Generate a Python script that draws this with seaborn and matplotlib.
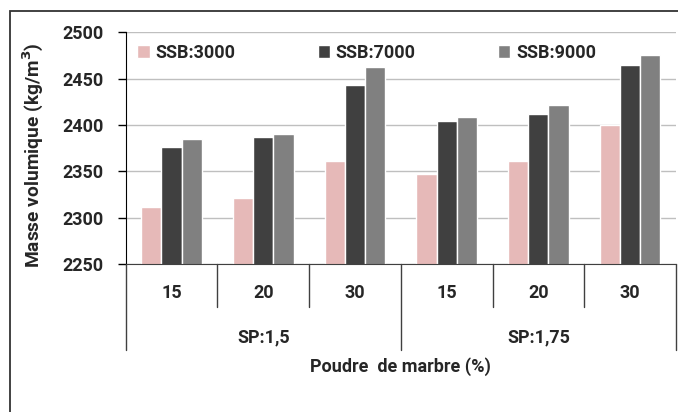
import pandas as pd
import matplotlib
matplotlib.use("Agg")
import matplotlib.pyplot as plt
from matplotlib.patches import Rectangle
import seaborn as sns

# Data
sp_groups = ["SP:1,5", "SP:1,75"]
marbre = ["15", "20", "30"]
series = ["SSB:3000", "SSB:7000", "SSB:9000"]
ssb3000 = [2312, 2321, 2361, 2347, 2361, 2400]
ssb7000 = [2376, 2387, 2443, 2404, 2412, 2465]
ssb9000 = [2385, 2390, 2462, 2408, 2422, 2475]
colors = ["#E6B9B8", "#404040", "#808080"]

if __name__ == '__main__':
    ###########################################################################
    # Build a long table for seaborn
    ###########################################################################
    cats = [f"{g} / {m}" for g in sp_groups for m in marbre]
    rows = []
    for name, vals in zip(series, [ssb3000, ssb7000, ssb9000]):
        for c, v in zip(cats, vals):
            rows.append({"cat": c, "SSB": name, "val": v})
    df = pd.DataFrame(rows)

    sns.set_style("white")
    plt.rcParams['font.family'] = ['Roboto', 'DejaVu Sans']
    plt.rcParams['font.weight'] = 'bold'
    fs = 13

    fig = plt.figure(figsize=(6.78, 4.12), dpi=100)
    ax = fig.add_axes([0.1854, 0.359, 0.8116, 0.563])

    sns.barplot(data=df, x="cat", y="val", hue="SSB", order=cats,
                hue_order=series, palette=colors, width=0.66, gap=0,
                saturation=1, ax=ax, legend=True)

    ax.set_ylim(2250, 2500)
    ax.set_yticks(range(2250, 2501, 50))
    ax.set_xlim(-0.5, len(cats) - 0.5)
    ax.set_xticks([])
    ax.set_xlabel("")
    ax.set_ylabel("Masse volumique (kg/m$^3$)", fontsize=13.8,
                  fontweight='bold')
    ax.yaxis.set_label_coords(-0.147, 0.47)
    ax.grid(axis='y', color='#BFBFBF', lw=1)
    ax.set_axisbelow(True)
    for s in ['top', 'right']:
        ax.spines[s].set_visible(False)
    ax.spines['left'].set_color('black')
    ax.spines['bottom'].set_color('#404040')
    ax.tick_params(axis='y', direction='out', length=6, width=1,
                   color='black', pad=10, labelsize=fs, left=True)
    for t in ax.get_yticklabels():
        t.set_fontweight('bold')

    # Legend across the top
    ax.legend(ncol=3, loc='upper left', bbox_to_anchor=(0.0, 1.0),
              frameon=False, prop={'weight': 'bold', 'size': fs},
              handlelength=0.7, handleheight=0.7, handletextpad=0.3,
              columnspacing=4.55, borderaxespad=0.25)

    # Multi-level category axis drawn below the plot
    trans = ax.get_xaxis_transform()
    n = len(cats)
    for i in range(n + 1):
        x = i - 0.5
        depth = -0.371 if i % len(marbre) == 0 else -0.185
        ax.plot([x, x], [0, depth], transform=trans, color='#404040',
                lw=1, clip_on=False)
    for i, c in enumerate(cats):
        ax.text(i, -0.125, c.split(" / ")[1], transform=trans, ha='center',
                va='center', fontsize=fs, fontweight='bold')
    for j, g in enumerate(sp_groups):
        xc = j * len(marbre) + (len(marbre) - 1) / 2
        ax.text(xc, -0.315, g, transform=trans, ha='center', va='center',
                fontsize=fs, fontweight='bold')
    ax.text((n - 1) / 2, -0.444, "Poudre  de marbre (%)", transform=trans,
            ha='center', va='center', fontsize=fs, fontweight='bold')

    # Outer chart frame (partly cropped in the reference)
    fig.patches.append(Rectangle((10 / 678, -0.1), 1.2, 1.1 - 11 / 412,
                                 transform=fig.transFigure, fill=False,
                                 edgecolor='#333333', lw=1.3))

    fig.savefig("out.png", dpi=100)
